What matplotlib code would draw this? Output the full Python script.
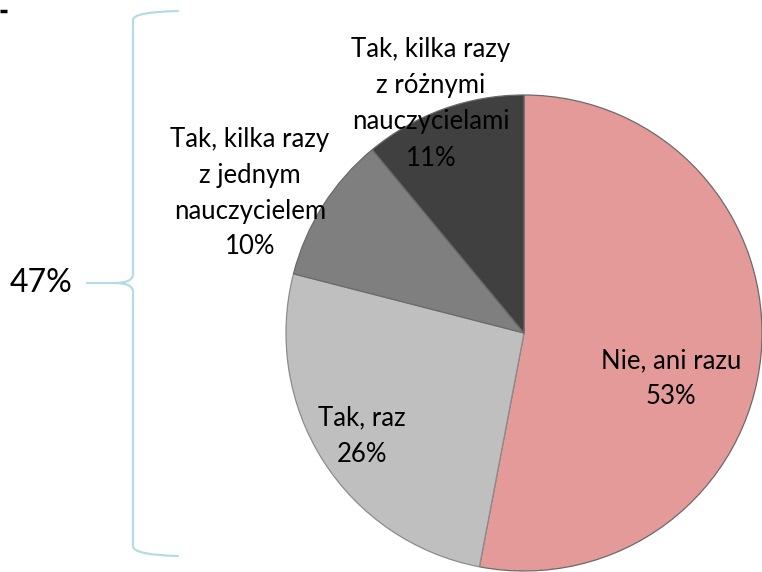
import matplotlib
matplotlib.use("Agg")
import matplotlib.pyplot as plt
from matplotlib.path import Path
from matplotlib.patches import PathPatch

plt.rcParams['font.family'] = ['Lato', 'DejaVu Sans']

# slices, clockwise from 12 o'clock
labels = ['Nie, ani razu', 'Tak, raz', 'Tak, kilka razy\nz jednym\nnauczycielem',
          'Tak, kilka razy\nz różnymi\nnauczycielami']
values = [53, 26, 10, 11]
colors = ['#E59A9A', '#BFBFBF', '#7F7F7F', '#404040']
bracket_label = '47%'

W, H = 762, 572
fig = plt.figure(figsize=(W / 100, H / 100), dpi=100)
ax = fig.add_axes([0, 0, 1, 1])

# pie geometry in pixels (y up)
cx, cy, r = 524, H - 333, 238
wedges, _ = ax.pie(values, colors=colors, startangle=90, counterclock=False,
                   center=(cx, cy), radius=r, frame=True,
                   wedgeprops=dict(edgecolor='#6a6a6a', linewidth=0.9))
ax.set_xlim(0, W)
ax.set_ylim(0, H)
ax.set_aspect('equal')
ax.axis('off')
wedges[1].set_edgecolor('#8c8c8c')

# label positions (pixel coords, image y down)
label_pos = [(671, 379), (362, 436), (250, 193), (431, 104)]
for lab, v, (x, y) in zip(labels, values, label_pos):
    ax.text(x, H - y, f'{lab}\n{v}%', ha='center', va='center',
            fontsize=18.5, linespacing=1.55, color='black')

# curly bracket on the left
def iy(y):
    return H - y

top = Path([(178, iy(11)), (133, iy(12)), (133, iy(20)), (133, iy(274)),
            (133, iy(283)), (115, iy(283)), (87, iy(283))],
           [Path.MOVETO, Path.CURVE3, Path.CURVE3, Path.LINETO,
            Path.CURVE3, Path.CURVE3, Path.LINETO])
bottom = Path([(115, iy(283)), (133, iy(283)), (133, iy(292)), (133, iy(546)),
               (133, iy(555)), (178, iy(556))],
              [Path.MOVETO, Path.CURVE3, Path.CURVE3, Path.LINETO,
               Path.CURVE3, Path.CURVE3])
for p in (top, bottom):
    ax.add_patch(PathPatch(p, fill=False, edgecolor='#B5DDE1', linewidth=1.6,
                           capstyle='round'))

ax.text(41, iy(283), bracket_label, ha='center', va='center', fontsize=23,
        color='black')

# small dash in the corner
ax.plot([0, 7], [iy(10.5), iy(10.5)], color='black', linewidth=2.5,
        solid_capstyle='butt')

fig.savefig('out.png', dpi=100)
